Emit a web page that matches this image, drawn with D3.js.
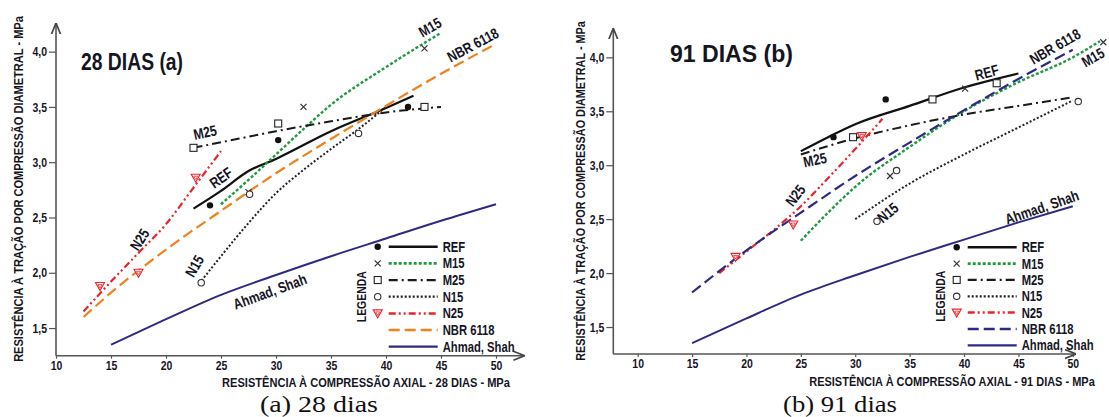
<!DOCTYPE html>
<html>
<head>
<meta charset="utf-8">
<script src="https://cdn.jsdelivr.net/npm/d3@7"></script>
<style>
  body { margin: 0; background: #fff; }
  svg { display: block; }
</style>
</head>
<body>
<svg id="chart" width="1109" height="417"></svg>
<script>
// ---- data ----
var xTicks = [10, 15, 20, 25, 30, 35, 40, 45, 50];
var yTicks = [1.5, 2.0, 2.5, 3.0, 3.5, 4.0];
var seriesNames = ["REF", "M15", "M25", "N15", "N25", "NBR 6118", "Ahmad, Shah"];

// 28 dias - curves [fc, fct]
var ref28 = [[22.5, 2.58], [25, 2.74], [27.5, 2.92], [30, 3.03], [35, 3.28], [40, 3.49], [42.5, 3.6]];
var m15_28 = [[25, 2.62], [27.5, 2.84], [30, 3.07], [32.5, 3.3], [35, 3.52], [40, 3.86], [45, 4.17]];
var m25_28 = [[22.5, 3.13], [25, 3.18], [30, 3.28], [35, 3.37], [40, 3.45], [45, 3.5]];
var n15_28 = [[23, 1.9], [25, 2.15], [27.5, 2.45], [30, 2.72], [32.5, 2.93], [35, 3.12], [37.5, 3.3], [40, 3.5]];
var n25_28 = [[12.5, 1.65], [15, 1.92], [17.5, 2.18], [20, 2.44], [22.5, 2.77], [25, 3.1]];
var nbr28 = [[12.5, 1.6], [15, 1.82], [20, 2.21], [25, 2.56], [30, 2.9], [35, 3.21], [40, 3.51], [45, 3.8], [50, 4.07]];
var ahmad28 = [[15, 1.35], [20, 1.58], [25, 1.8], [30, 1.98], [35, 2.15], [40, 2.31], [45, 2.47], [50, 2.62]];
// 28 dias - measured points
var refPts28 = [[24, 2.61], [30.2, 3.2], [42, 3.5]];
var m15Pts28 = [[27.5, 2.73], [32.5, 3.5], [43.5, 4.03]];
var m25Pts28 = [[22.5, 3.13], [30.2, 3.35], [43.5, 3.5]];
var n15Pts28 = [[23.2, 1.91], [27.6, 2.71], [37.5, 3.26]];
var n25Pts28 = [[14, 1.88], [17.5, 2.0], [22.7, 2.86]];

// 91 dias - curves
var ref91 = [[25, 3.13], [27.5, 3.26], [30, 3.38], [35, 3.55], [40, 3.72], [45, 3.85]];
var m15_91 = [[25, 2.3], [27.5, 2.56], [30, 2.8], [35, 3.17], [40, 3.5], [45, 3.77], [50, 4.0], [52.5, 4.15]];
var m25_91 = [[25, 3.1], [30, 3.25], [35, 3.37], [40, 3.47], [45, 3.55], [50, 3.63]];
var n15_91 = [[30, 2.5], [35, 2.83], [40, 3.1], [45, 3.35], [50, 3.6]];
var n25_91 = [[17.5, 2.0], [20, 2.2], [22.5, 2.4], [25, 2.62], [27.5, 2.88], [30, 3.15], [32.5, 3.43]];
var nbr91 = [[15, 1.82], [20, 2.21], [25, 2.56], [30, 2.9], [35, 3.21], [40, 3.51], [45, 3.8], [50, 4.07]];
var ahmad91 = [[15, 1.35], [20, 1.58], [25, 1.8], [30, 1.98], [35, 2.15], [40, 2.31], [45, 2.47], [50, 2.62]];
// 91 dias - measured points
var refPts91 = [[28, 3.26], [32.8, 3.61], [43, 3.76]];
var m15Pts91 = [[33.2, 2.9], [40.1, 3.71], [52.8, 4.14]];
var m25Pts91 = [[29.8, 3.26], [37.1, 3.61], [43, 3.76]];
var n15Pts91 = [[32, 2.48], [33.8, 2.95], [50.5, 3.59]];
var n25Pts91 = [[19, 2.15], [24.3, 2.45], [30.6, 3.27]];

// curve labels [text, fc, fct, angle]
var labels28 = [["M25", 23.55, 3.27, -12], ["REF", 25.0, 2.86, -35], ["N25", 17.6, 2.3, -57],
  ["N15", 22.6, 2.06, -60], ["Ahmad, Shah", 29.45, 1.83, -20], ["M15", 44.0, 4.22, -30], ["NBR 6118", 47.9, 4.06, -28]];
var labels91 = [["REF", 42.1, 3.86, -15], ["NBR 6118", 48.36, 4.1, -30], ["M15", 51.85, 4.0, -30],
  ["M25", 26.3, 3.05, -12], ["N25", 24.5, 2.72, -52], ["N15", 33.0, 2.56, -40], ["Ahmad, Shah", 47.16, 2.61, -19]];

// ---- styles ----
var FONT = "'Liberation Sans',Arial,sans-serif";
var TXT = "#15151f";
var styles = {
  "REF":        { color: "#111", dash: null, width: 2.2, mark: "dot" },
  "M15":        { color: "#1f9b3f", dash: "3,2", width: 2.4, mark: "x" },
  "M25":        { color: "#1a1a1a", dash: "9,4,2,4", width: 2, mark: "sq" },
  "N15":        { color: "#222", dash: "2,2", width: 2, mark: "o" },
  "N25":        { color: "#e8242b", dash: "7,3,2,3,2,3", width: 2.2, mark: "tri" },
  "NBR 6118":   { color: "#f0821e", dash: "11,5", width: 2.2, mark: null },
  "Ahmad, Shah":{ color: "#2e2a84", dash: null, width: 2, mark: null }
};

var svg = d3.select("#chart");
svg.append("defs").append("marker")
  .attr("id", "arrow").attr("viewBox", "0 0 10 10").attr("refX", 9).attr("refY", 5)
  .attr("markerWidth", 7).attr("markerHeight", 7).attr("orient", "auto")
  .append("path").attr("d", "M0,1 L10,5 L0,9").attr("fill", "none").attr("stroke", "#444").attr("stroke-width", 1.5);

// horizontal squeeze so the bold sans looks like the narrow face of the original
var probe = svg.append("text").style("font-family", FONT).style("font-weight", "bold").style("font-size", "14px").text("Ahmad, Shah");
var K = 72 / probe.node().getComputedTextLength();
probe.remove();

function narrowText(parent, x, y, rot, str, size, target) {
  var t = parent.append("text")
    .attr("dy", "0.35em")
    .style("font-family", FONT).style("font-weight", "bold").style("font-size", size + "px").attr("fill", TXT)
    .text(str);
  var s = target ? target / t.node().getComputedTextLength() : K;
  t.attr("transform", "translate(" + x + "," + y + ") rotate(" + rot + ") scale(" + s + ",1)");
  return t;
}

function drawMarker(g, kind, x, y) {
  if (kind == "dot") {
    g.append("circle").attr("cx", x).attr("cy", y).attr("r", 3.2).attr("fill", "#111");
  } else if (kind == "x") {
    g.append("path").attr("d", "M" + (x - 3) + "," + (y - 3) + "L" + (x + 3) + "," + (y + 3) + "M" + (x - 3) + "," + (y + 3) + "L" + (x + 3) + "," + (y - 3))
      .attr("stroke", "#333").attr("stroke-width", 1.2);
  } else if (kind == "sq") {
    g.append("rect").attr("x", x - 3.5).attr("y", y - 3.5).attr("width", 7).attr("height", 7)
      .attr("fill", "#fff").attr("stroke", "#222").attr("stroke-width", 1.1);
  } else if (kind == "o") {
    g.append("circle").attr("cx", x).attr("cy", y).attr("r", 3.2)
      .attr("fill", "#fff").attr("stroke", "#333").attr("stroke-width", 1.1);
  } else if (kind == "tri") {
    g.append("path").attr("d", "M" + (x - 4.5) + "," + (y - 3.5) + "L" + (x + 4.5) + "," + (y - 3.5) + "L" + x + "," + (y + 4.5) + "Z")
      .attr("fill", "#fff").attr("stroke", "#e8242b").attr("stroke-width", 1.1);
    g.append("path").attr("d", "M" + (x - 2) + "," + (y - 1.5) + "L" + (x + 2) + "," + (y - 1.5) + "L" + x + "," + (y + 2) + "Z")
      .attr("fill", "none").attr("stroke", "#e8242b").attr("stroke-width", 0.8);
  }
}

function drawPanel(p) {
  var x = d3.scaleLinear().domain(p.xDomain).range(p.xRange);
  var y = d3.scaleLinear().domain(p.yDomain).range(p.yRange);
  var g = svg.append("g");

  // axes
  var yAxis = d3.axisLeft(y).tickValues(yTicks).tickSize(7).tickPadding(2)
    .tickFormat(function(d) { return d3.format(".1f")(d).replace(".", ","); });
  var xAxis = d3.axisBottom(x).tickValues(xTicks).tickSize(3).tickPadding(2).tickFormat(d3.format("d"));
  var ya = g.append("g").attr("transform", "translate(" + p.xRange[0] + ",0)").call(yAxis);
  var xa = g.append("g").attr("transform", "translate(0," + p.yRange[0] + ")").call(xAxis);
  [ya, xa].forEach(function(a) {
    a.select(".domain").remove();
    a.selectAll(".tick line").attr("stroke", "#555").attr("stroke-width", 1.2);
    a.selectAll(".tick text").attr("fill", TXT).style("font-family", FONT).style("font-weight", "bold").style("font-size", "13px");
  });
  ya.selectAll(".tick text").attr("x", 0).attr("transform", "translate(-9,0) scale(" + K + ",1)");
  xa.selectAll(".tick text").attr("transform", "scale(" + K + ",1)");
  g.append("line").attr("x1", p.xRange[0]).attr("x2", p.xRange[0]).attr("y1", p.yRange[0]).attr("y2", p.yRange[1])
    .attr("stroke", "#555").attr("stroke-width", 1.6).attr("marker-end", "url(#arrow)");
  g.append("line").attr("x1", p.xRange[0]).attr("x2", p.xRange[1]).attr("y1", p.yRange[0]).attr("y2", p.yRange[0])
    .attr("stroke", "#555").attr("stroke-width", 1.6).attr("marker-end", "url(#arrow)");

  // curves
  var line = d3.line().x(function(d) { return x(d[0]); }).y(function(d) { return y(d[1]); }).curve(d3.curveMonotoneX);
  seriesNames.forEach(function(name, i) {
    var st = styles[name];
    var col = (name == "NBR 6118") ? p.nbrColor : st.color;
    g.append("path").datum(p.curves[i]).attr("d", line).attr("fill", "none")
      .attr("stroke", col).attr("stroke-width", st.width).attr("stroke-dasharray", st.dash);
  });
  // measured points
  seriesNames.forEach(function(name, i) {
    var pts = p.points[i];
    if (!pts) return;
    pts.forEach(function(d) { drawMarker(g, styles[name].mark, x(d[0]), y(d[1])); });
  });

  // curve labels
  p.labels.forEach(function(l) {
    narrowText(g, x(l[1]), y(l[2]), l[3], l[0], 15).attr("text-anchor", "middle");
  });

  // title
  g.append("text").attr("x", p.title[1]).attr("y", p.title[2]).text(p.title[0])
    .attr("textLength", p.title[3]).attr("lengthAdjust", "spacingAndGlyphs")
    .style("font-family", FONT).style("font-weight", "bold").style("font-size", "23px").attr("fill", TXT);

  // axis titles (squeezed to the measured length of the original)
  narrowText(g, p.yLabelX, p.yLabelMid, -90, "RESISTÊNCIA À TRAÇÃO POR COMPRESSÃO DIAMETRAL - MPa", 12, p.yLabelLen)
    .attr("text-anchor", "middle");
  narrowText(g, p.xLabelStart + p.xLabelLen / 2, p.xLabelY, 0, p.xLabel, 13, p.xLabelLen)
    .attr("text-anchor", "middle");

  // caption
  g.append("text").attr("x", p.caption[1]).attr("y", 412).text(p.caption[0])
    .attr("textLength", p.caption[2]).attr("lengthAdjust", "spacingAndGlyphs")
    .style("font-family", "'Liberation Serif','Times New Roman',serif").style("font-size", "23px").attr("fill", "#111");

  // legend
  var lg = g.append("g").attr("transform", "translate(" + p.legend[0] + "," + p.legend[1] + ")");
  seriesNames.forEach(function(name, i) {
    var st = styles[name];
    var col = (name == "NBR 6118") ? p.nbrColor : st.color;
    var yy = i * p.legend[2];
    if (st.mark) drawMarker(lg, st.mark, 0, yy);
    lg.append("line").attr("x1", 11).attr("x2", 60).attr("y1", yy).attr("y2", yy)
      .attr("stroke", col).attr("stroke-width", st.width + 0.3).attr("stroke-dasharray", st.dash);
    narrowText(lg, 65, yy, 0, name, 14);
  });
  narrowText(lg, -16, 3 * p.legend[2], -90, "LEGENDA", 13).attr("text-anchor", "middle");
}

drawPanel({
  xDomain: [10, 52.5], xRange: [56, 523.5],
  yDomain: [1.25, 4.25], yRange: [355.7, 24],
  nbrColor: "#f0821e",
  curves: [ref28, m15_28, m25_28, n15_28, n25_28, nbr28, ahmad28],
  points: [refPts28, m15Pts28, m25Pts28, n15Pts28, n25Pts28, null, null],
  labels: labels28,
  title: ["28 DIAS (a)", 81, 70, 102],
  yLabelX: 19, yLabelMid: 189, yLabelLen: 346,
  xLabel: "RESISTÊNCIA À COMPRESSÃO AXIAL - 28 DIAS - MPa", xLabelStart: 222, xLabelY: 382, xLabelLen: 288,
  caption: ["(a) 28 dias", 260, 118],
  legend: [377.7, 246.7, 16.67]
});

drawPanel({
  xDomain: [7.76, 50.2], xRange: [613.3, 1075],
  yDomain: [1.25, 4.26], yRange: [354, 29.3],
  nbrColor: "#2e2a84",
  curves: [ref91, m15_91, m25_91, n15_91, n25_91, nbr91, ahmad91],
  points: [refPts91, m15Pts91, m25Pts91, n15Pts91, n25Pts91, null, null],
  labels: labels91,
  title: ["91 DIAS (b)", 670, 62, 123],
  yLabelX: 581, yLabelMid: 191, yLabelLen: 340,
  xLabel: "RESISTÊNCIA À COMPRESSÃO AXIAL - 91 DIAS - MPa", xLabelStart: 809, xLabelY: 381, xLabelLen: 286,
  caption: ["(b) 91 dias", 783, 114],
  legend: [956.7, 247.3, 16.33]
});
</script>
</body>
</html>
